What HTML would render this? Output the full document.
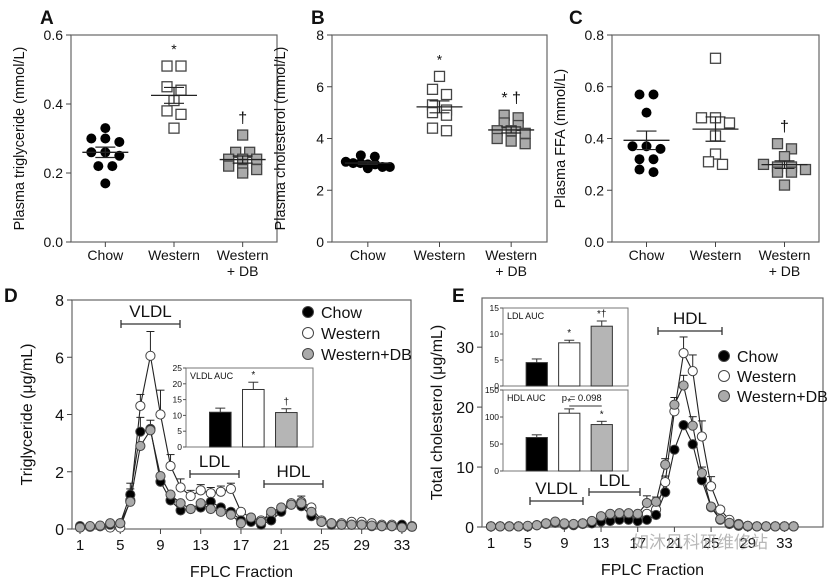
<!DOCTYPE html>
<html><head><meta charset="utf-8">
<style>
body{margin:0;background:#fff;}
svg{display:block;font-family:"Liberation Sans","Noto Sans CJK SC",sans-serif;}
</style></head>
<body>
<svg id="fig" width="838" height="581" viewBox="0 0 838 581"></svg>
<script>
// ---------- data ----------
const groups = ["Chow","Western","Western + DB"];
const tgChow = [0.33,0.29,0.30,0.30,0.25,0.26,0.26,0.22,0.22,0.17];
const tgWest = [0.51,0.51,0.44,0.45,0.41,0.37,0.38,0.33];
const tgDB   = [0.31,0.26,0.26,0.24,0.24,0.22,0.21,0.21,0.20,0.24];
const chChow = [3.3,2.9,3.05,3.0,3.0,3.05,3.1,2.85,3.35,2.9];
const chWest = [6.4,5.9,5.7,5.3,5.1,5.0,4.9,4.4,4.3];
const chDB   = [4.8,4.9,4.5,4.6,4.3,4.3,4.2,4.0,3.9,3.8];
const ffaChow = [0.57,0.57,0.50,0.36,0.37,0.37,0.32,0.32,0.27,0.28];
const ffaWest = [0.71,0.48,0.48,0.46,0.41,0.34,0.30,0.31];
const ffaDB   = [0.38,0.36,0.33,0.29,0.28,0.29,0.30,0.27,0.27,0.22];
const tgTicks = [0.0,0.2,0.4,0.6];
const chTicks = [0,2,4,6,8];
const ffaTicks = [0.0,0.2,0.4,0.6,0.8];

const fracTicks = [1,5,9,13,17,21,25,29,33];
const dChow = [0.1,0.08,0.1,0.15,0.2,1.2,3.4,3.5,1.65,1.0,0.65,0.7,0.75,0.95,0.75,0.6,0.3,0.25,0.15,0.3,0.6,0.85,0.8,0.45,0.25,0.15,0.15,0.15,0.15,0.1,0.1,0.1,0.15,0.08];
const dWest = [0.05,0.08,0.1,0.05,0.05,1.0,4.3,6.05,4.0,2.2,1.45,1.15,1.35,1.25,1.3,1.4,0.6,0.4,0.3,0.5,0.65,0.9,0.95,0.75,0.3,0.2,0.2,0.25,0.25,0.2,0.15,0.15,0.1,0.1];
const dDB   = [0.05,0.1,0.12,0.2,0.2,0.95,2.9,3.45,1.85,1.2,0.9,0.7,0.9,0.7,0.6,0.5,0.2,0.4,0.25,0.6,0.75,0.85,0.9,0.6,0.25,0.2,0.15,0.15,0.15,0.12,0.1,0.1,0.05,0.08];
const dErrW = [0,0,0,0,0,0.4,0.4,0.85,0.85,0.4,0.3,0.2,0.2,0.2,0.2,0.2,0.1,0,0,0.1,0.1,0.1,0.2,0.1,0,0,0,0.05,0.05,0,0,0,0,0];
const dErrC = [0,0,0,0,0,0.4,0.5,0.3,0.1,0.1,0.1,0.1,0.1,0.1,0.1,0.1,0,0,0,0.1,0.1,0.1,0.1,0.1,0,0,0,0,0,0,0,0,0.05,0];
const dTicks = [0,2,4,6,8];
const eChow = [0.1,0.1,0.1,0.1,0.1,0.3,0.5,0.7,0.4,0.3,0.5,0.6,0.9,1.0,1.2,1.2,1.0,1.2,2.0,5.8,12.9,17,13.8,7.8,3.3,1.2,0.5,0.2,0.1,0.1,0.1,0.1,0.1,0.1];
const eWest = [0.1,0.1,0.1,0.1,0.1,0.3,0.6,0.8,0.5,0.4,0.6,0.8,1.2,1.5,1.6,1.6,1.4,2.2,2.9,7.5,19.3,29,26,15.1,6.8,2.9,1.2,0.5,0.2,0.1,0.1,0.1,0.1,0.1];
const eDB   = [0.1,0.1,0.1,0.1,0.2,0.3,0.6,0.9,0.6,0.5,0.6,1.0,1.8,2.2,2.3,2.3,2.2,4.0,4.2,10.4,20.4,23.6,16.9,9.0,3.4,1.3,0.7,0.4,0.2,0.1,0.1,0.1,0.1,0.1];
const eErrW = [0,0,0,0,0,0,0,0,0,0,0,0,0.3,0.3,0.3,0.3,0.3,0.5,0.5,1,1.3,2.7,2.7,2.6,1.6,0.5,0,0,0,0,0,0,0,0];
const eErrD = [0,0,0,0,0,0,0,0,0,0,0,0,0.3,0.3,0.3,0.3,0.3,1.2,0.8,1,1.2,1.7,1.5,1,0.5,0,0,0,0,0,0,0,0,0];
const eTicks = [0,10,20,30];
const aucGroups = ["Chow","Western","Western+DB"];
const vldlAuc = [11,18.2,10.9];
const vldlErr = [1.3,2.3,1.2];
const ldlAuc = [4.5,8.3,11.5];
const ldlErr = [0.7,0.5,1.0];
const hdlAuc = [62,107,86];
const hdlErr = [5,8,6];

const NS="http://www.w3.org/2000/svg";
const svg=document.getElementById('fig');
function mk(tag,attrs,parent){const e=document.createElementNS(NS,tag);for(const k in attrs)e.setAttribute(k,attrs[k]);(parent||svg).appendChild(e);return e;}
function txt(x,y,s,size,anchor,parent,extra){const t=mk('text',Object.assign({x:x,y:y,'font-size':size,'text-anchor':anchor||'middle',fill:'#111'},extra||{}),parent);t.textContent=s;return t;}
const fills=['#000','#fff','#aaa'];

function mean(a){return a.reduce((s,v)=>s+v,0)/a.length;}
function sem(a){const m=mean(a);return Math.sqrt(a.reduce((s,v)=>s+(v-m)*(v-m),0)/(a.length-1))/Math.sqrt(a.length);}

// ---------- scatter panels ----------
function scatterPanel(name,x0,x1,y0,y1,ymax,ticks,dec,data,ytitle,marks){
  const g=mk('g',{});
  
  
  const ys=v=>y1-(v/ymax)*(y1-y0);
  const frame=mk('rect',{x:x0,y:y0,width:x1-x0,height:y1-y0,fill:'none',stroke:'#666','stroke-width':1.2},g);
  
  
  ticks.forEach(t=>{
    const tk=mk('line',{x1:x0-5,x2:x0,y1:ys(t),y2:ys(t),stroke:'#444'},g);
    
    
    const tl=txt(x0-8,ys(t)+5,t.toFixed(dec),14,'end',g);
    
    
  });
  const yt=txt(0,0,ytitle,14.5,'middle',g,{transform:`translate(${x0-47},${(y0+y1)/2}) rotate(-90)`});
  
  
  const w=x1-x0;
  data.forEach((arr,gi)=>{
    const cx=x0+w*(gi*2+1)/6;
    const xt=mk('line',{x1:cx,x2:cx,y1:y1,y2:y1+5,stroke:'#444'},g);
    
    
    const lab=groups[gi].split(' + ');
    const l1=txt(cx,y1+18,lab[0],14,'middle',g);
    
    
    if(lab[1]){const l2=txt(cx,y1+34,'+ '+lab[1],14,'middle',g);
      
      }
    const thr=ymax*0.028;
    const sorted=arr.map((v,i)=>({v,i})).sort((a,b)=>b.v-a.v);
    const rows=[];
    sorted.forEach(p=>{const r=rows.find(r=>Math.abs(r[0].v-p.v)<thr);if(r)r.push(p);else rows.push([p]);});
    rows.forEach(r=>{
      const sp=r.length>1?Math.min(14,44/(r.length-1)):0;
      r.forEach((p,k)=>{
        const px=cx+(k-(r.length-1)/2)*sp;
        const py=ys(p.v);
        let m;
        if(gi===0){m=mk('circle',{cx:px,cy:py,r:5,fill:'#000'},g);}
        else{m=mk('rect',{x:px-5,y:py-5,width:10,height:10,fill:fills[gi],stroke:'#444','stroke-width':1.3},g);}
        
        
      });
    });
    const mu=mean(arr),se=sem(arr);
    const ml=mk('line',{x1:cx-23,x2:cx+23,y1:ys(mu),y2:ys(mu),stroke:'#222','stroke-width':1.3},g);
    
    
    [mu+se,mu-se].forEach(v=>{
      const sl=mk('line',{x1:cx-10,x2:cx+10,y1:ys(v),y2:ys(v),stroke:'#222','stroke-width':1.2},g);
      
      
    });
    const vl=mk('line',{x1:cx,x2:cx,y1:ys(mu+se),y2:ys(mu-se),stroke:'#222','stroke-width':1.2},g);
    
    
    if(marks[gi]){
      const st=txt(cx,ys(Math.max(...arr))-12,marks[gi],marks[gi]==='*'?14:16,'middle',g);
      
      
    }
  });
}
scatterPanel('panel-a-triglyceride',71,277,35,242,0.6,tgTicks,1,[tgChow,tgWest,tgDB],'Plasma triglyceride (mmol/L)',['','*','†']);
scatterPanel('panel-b-cholesterol',332,547,35,242,8,chTicks,0,[chChow,chWest,chDB],'Plasma cholesterol (mmol/L)',['','*','* †']);
scatterPanel('panel-c-ffa',612,819,35,242,0.8,ffaTicks,1,[ffaChow,ffaWest,ffaDB],'Plasma FFA  (mmol/L)',['','','†']);

// ---------- FPLC panels ----------
function fplc(name,x0,x1,y0,y1,ymax,ticks,xf1,xstep,series,sfills,errs,ytitle){
  const g=mk('g',{});
  
  
  const ys=v=>y1-(v/ymax)*(y1-y0);
  const xs=f=>xf1+(f-1)*xstep;
  const frame=mk('rect',{x:x0,y:y0,width:x1-x0,height:y1-y0,fill:'none',stroke:'#666','stroke-width':1.2},g);
  
  
  ticks.forEach(t=>{
    const tk=mk('line',{x1:x0-5,x2:x0,y1:ys(t),y2:ys(t),stroke:'#444'},g);
    
    
    const tl=txt(x0-8,ys(t)+6,String(t),16,'end',g);
    
    
  });
  fracTicks.forEach(f=>{
    const tk=mk('line',{x1:xs(f),x2:xs(f),y1:y1,y2:y1+5,stroke:'#444'},g);
    
    
    const tl=txt(xs(f),y1+21,String(f),15,'middle',g);
    
    
  });
  const xt=txt((x0+x1)/2,y1+48,'FPLC Fraction',16,'middle',g);
  
  
  const yt=txt(0,0,ytitle,16,'middle',g,{transform:`translate(${x0-40},${(y0+y1)/2}) rotate(-90)`});
  
  
  series.forEach((s,si)=>{
    const er=errs[si];
    if(er){s.forEach((v,i)=>{if(er[i]>0){
      const e1=mk('line',{x1:xs(i+1),x2:xs(i+1),y1:ys(v),y2:ys(v+er[i]),stroke:'#222','stroke-width':1},g);
      
      
      const e2=mk('line',{x1:xs(i+1)-4,x2:xs(i+1)+4,y1:ys(v+er[i]),y2:ys(v+er[i]),stroke:'#222','stroke-width':1},g);
      
      }});}
    const pl=mk('polyline',{points:s.map((v,i)=>xs(i+1)+','+ys(v)).join(' '),fill:'none',stroke:'#222','stroke-width':1.1},g);
    
    
  });
  series.forEach((s,si)=>{
    s.forEach((v,i)=>{
      const c=mk('circle',{cx:xs(i+1),cy:ys(v),r:4.6,fill:sfills[si],stroke:'#444','stroke-width':1},g);
      
      
    });
  });
  return {g,ys,xs};
}
const D=fplc('panel-d-triglyceride-fplc',72,411,300,529,8,dTicks,80,10.06,[dWest,dChow,dDB],['#fff','#000','#aaa'],[dErrW,dErrC,null],'Triglyceride (μg/mL)');
const E=fplc('panel-e-cholesterol-fplc',482,823,298,527,38.2,eTicks,491,9.17,[eWest,eChow,eDB],['#fff','#000','#aaa'],[eErrW,null,eErrD],'Total cholesterol (μg/mL)');

function legend(x,y,gap,parent){
  aucGroups.forEach((n,i)=>{
    const c=mk('circle',{cx:x,cy:y+i*gap,r:5.5,fill:fills[i],stroke:'#444','stroke-width':1},parent);
    
    
    const t=txt(x+13,y+i*gap+6,n,16,'start',parent);
    
    
  });
}
legend(308,312,21,D.g);
legend(724,356,20,E.g);

function region(label,xa,xb,yb,ty,parent){
  const l=mk('line',{x1:xa,x2:xb,y1:yb,y2:yb,stroke:'#333','stroke-width':1.3},parent);
  
  
  [xa,xb].forEach(x=>{const c=mk('line',{x1:x,x2:x,y1:yb-4,y2:yb+4,stroke:'#333','stroke-width':1.3},parent);
    
    });
  const t=txt((xa+xb)/2,ty,label,17,'middle',parent);
  
  
}
region('VLDL',121,180,324,317,D.g);
region('LDL',190,239,474,467,D.g);
region('HDL',264,323,484,477,D.g);
region('HDL',658,722,331,324,E.g);
region('VLDL',530,583,501,494,E.g);
region('LDL',589,640,492,486,E.g);

// ---------- insets ----------
function inset(name,x0,x1,y0,y1,ymax,step,vals,errs,title,marks,parent){
  const g=mk('g',{},parent);
  
  
  const bg=mk('rect',{x:x0,y:y0,width:x1-x0,height:y1-y0,fill:'#fff',stroke:'#777','stroke-width':1},g);
  
  
  const ys=v=>y1-(v/ymax)*(y1-y0);
  for(let t=0;t<=ymax;t+=step){
    const tk=mk('line',{x1:x0-3,x2:x0,y1:ys(t),y2:ys(t),stroke:'#555'},g);
    
    
    const tl=txt(x0-4,ys(t)+3,String(t),8.5,'end',g);
    
    
  }
  const tt=txt(x0+4,y0+11,title,9,'start',g);
  
  
  const w=x1-x0, bw=w*0.17;
  vals.forEach((v,i)=>{
    const cx=x0+w*(0.27+i*0.26);
    const e=mk('line',{x1:cx,x2:cx,y1:ys(v),y2:ys(v+errs[i]),stroke:'#333'},g);
    
    
    const ec=mk('line',{x1:cx-5,x2:cx+5,y1:ys(v+errs[i]),y2:ys(v+errs[i]),stroke:'#333'},g);
    
    
    const b=mk('rect',{x:cx-bw/2,y:ys(v),width:bw,height:ys(0)-ys(v),fill:fills[i]==='#aaa'?'#b5b5b5':fills[i],stroke:'#333','stroke-width':1},g);
    
    
    if(marks[i]){const m=txt(cx,ys(v+errs[i])-4,marks[i],10,'middle',g);
      
      }
  });
  return {g,ys,x0,w};
}
inset('inset-vldl-auc',186,313,368,447,25,5,vldlAuc,vldlErr,'VLDL AUC',['','*','†'],D.g);
inset('inset-ldl-auc',503,628,308,386,15,5,ldlAuc,ldlErr,'LDL AUC',['','*','*†'],E.g);
const H=inset('inset-hdl-auc',503,628,390,471,150,50,hdlAuc,hdlErr,'HDL AUC',['','*','*'],E.g);
const pb=mk('line',{x1:H.x0+H.w*0.53,x2:H.x0+H.w*0.79,y1:406,y2:406,stroke:'#333'},H.g);


const pt=txt(H.x0+H.w*0.63,401,'p = 0.098',9.5,'middle',H.g);



// ---------- panel letters ----------
[['A',40,24],['B',311,24],['C',569,24],['D',4,302],['E',452,302]].forEach(p=>{
  const t=txt(p[1],p[2],p[0],19,'start',svg,{'font-weight':'bold'});
  
  
});
const wm=txt(700,548,'如沐风科研维修站',17,'middle',svg,{fill:'#999','fill-opacity':0.7});


</script>
</body></html>
